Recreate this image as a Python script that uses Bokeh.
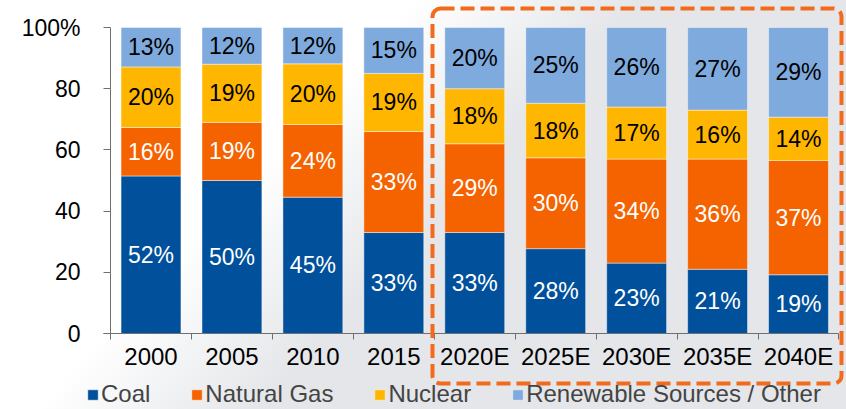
from bokeh.plotting import figure
from bokeh.models import FixedTicker, Legend, LegendItem, BoxAnnotation, ColumnDataSource
from bokeh.embed import file_html
from bokeh.resources import INLINE
from bokeh.core.properties import value

years = ["2000", "2005", "2010", "2015", "2020E", "2025E", "2030E", "2035E", "2040E"]
coal = [52, 50, 45, 33, 33, 28, 23, 21, 19]
gas = [16, 19, 24, 33, 29, 30, 34, 36, 37]
nuclear = [20, 19, 20, 19, 18, 18, 17, 16, 14]
renewable = [13, 12, 12, 15, 20, 25, 26, 27, 29]
series_names = ["Coal", "Natural Gas", "Nuclear", "Renewable Sources / Other"]
colors = ["#00509B", "#F56200", "#FFB600", "#7FAADE"]
label_colors = ["white", "white", "black", "black"]
y_ticks = [0, 20, 40, 60, 80, 100]
y_tick_labels = ["0", "20", "40", "60", "80", "100%"]

FONT = "Liberation Sans"
W, H = 846, 409
series = [coal, gas, nuclear, renewable]
keys = ["coal", "gas", "nuclear", "renewable"]
xs = list(range(len(years)))
totals = [sum(s[i] for s in series) for i in xs]

data = {"x": xs}
for k, s in zip(keys, series):
    data[k] = [s[i] / totals[i] * 100 for i in xs]
src = ColumnDataSource(data)

# label positions (segment centres of the 100% stack)
lx, ly, lt, lc = [], [], [], []
for i in xs:
    base = 0.0
    for k, s, c in zip(keys, series, label_colors):
        h = data[k][i]
        lx.append(i)
        ly.append(base + h / 2)
        lt.append(f"{s[i]}%")
        lc.append(c)
        base += h
lsrc = ColumnDataSource(dict(x=lx, y=ly, t=lt, c=lc))

# layout: frame covers the whole canvas, axes sit inside it (fixed_location)
px_per_cat = 80.94
x0_px = 150.5          # pixel of first category centre
px_per_pct = 3.06
y0_px = 333            # pixel of 0 %
x_range = (-x0_px / px_per_cat, (W - x0_px) / px_per_cat)
y_range = (-(H - y0_px) / px_per_pct, y0_px / px_per_pct)

p = figure(width=W, height=H, x_range=x_range, y_range=y_range,
           output_backend="svg", toolbar_location=None,
           min_border=0, min_border_left=0, min_border_right=0,
           min_border_top=0, min_border_bottom=0)
p.styles = {"background": "linear-gradient(133deg, #ffffff 0%, #ffffff 34%, #e4e6e9 52%, #e4e6e9 100%)"}
p.border_fill_alpha = 0
p.background_fill_alpha = 0
p.outline_line_color = None
p.grid.visible = False

rs = p.vbar_stack(keys, x="x", width=0.74, source=src, color=colors,
                  line_color="white", line_alpha=0.45, line_width=1)

p.text(x="x", y="y", text="t", source=lsrc, text_color="c",
       text_align="center", text_baseline="middle",
       text_font=value(FONT), text_font_size="23px")

# x axis
p.xaxis.fixed_location = 0
p.xaxis.bounds = (-0.5 - 7 / px_per_cat, len(years) - 0.5)
p.xaxis.ticker = FixedTicker(ticks=xs, minor_ticks=[i - 0.5 for i in range(len(years) + 1)])
p.xaxis.major_label_overrides = {i: y for i, y in zip(xs, years)}
p.xaxis.major_tick_out = 0
p.xaxis.major_tick_in = 0
p.xaxis.minor_tick_out = 6
p.xaxis.minor_tick_in = 0
p.xaxis.major_label_standoff = 3
p.xaxis.major_label_text_font_size = "24px"
# y axis
p.yaxis.fixed_location = -0.5
p.yaxis.bounds = (0, 100)
p.yaxis.ticker = FixedTicker(ticks=y_ticks)
p.yaxis.major_label_overrides = {t: l for t, l in zip(y_ticks, y_tick_labels)}
p.yaxis.major_tick_out = 7
p.yaxis.major_tick_in = 0
p.yaxis.major_label_standoff = 23
p.yaxis.major_label_text_font_size = "23px"
for ax in (p.xaxis, p.yaxis):
    ax.axis_line_color = "#707070"
    ax.major_tick_line_color = "#707070"
    ax.minor_tick_line_color = "#707070"
    ax.major_label_text_font = FONT
    ax.major_label_text_color = "black"

legend = Legend(items=[LegendItem(label=n, renderers=[r]) for n, r in zip(series_names, rs)],
                orientation="horizontal", location=(86, 1),
                glyph_width=13, glyph_height=13, label_standoff=2, spacing=40,
                padding=0, margin=0, background_fill_alpha=0, border_line_alpha=0,
                label_text_font=FONT, label_text_font_size="24px")
p.add_layout(legend, "center")

# dashed highlight around the estimates (screen y counted from the bottom)
box = BoxAnnotation(left=432, right=841, top=H - 8, bottom=H - 383,
                    left_units="screen", right_units="screen",
                    top_units="screen", bottom_units="screen",
                    fill_alpha=0, line_color="#F26A1B", line_alpha=1.0, line_width=4,
                    line_dash="14 6", border_radius=8)
p.add_layout(box)

open("out.html", "w").write(file_html(p, INLINE))
